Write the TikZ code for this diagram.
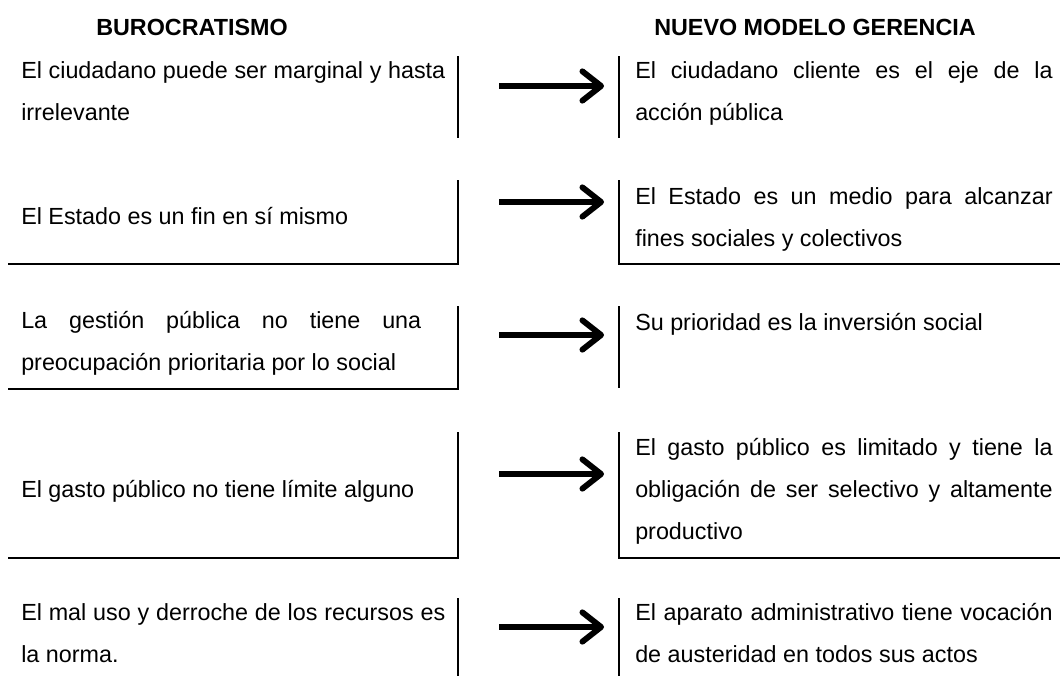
\documentclass[tikz,border=0pt]{standalone}
\usepackage{fontspec}
\setmainfont{Liberation Sans}
\usetikzlibrary{arrows.meta}
\newcommand{\nohyph}{\hyphenpenalty=10000\relax\exhyphenpenalty=10000\relax}
\begin{document}
\begin{tikzpicture}[x=0.75pt,y=-0.75pt,
  txt/.style={inner sep=0pt, anchor=base west, align=justify,
    font=\fontsize{17.5}{31.5}\selectfont\nohyph},
  lt/.style={txt, text width=318pt},
  rt/.style={txt, text width=313pt},
  hdr/.style={inner sep=0pt, anchor=base, font=\fontsize{17.5}{21}\selectfont\bfseries},
  rule/.style={line width=1.1pt, line cap=rect},
  arr/.style={line width=4.4pt, -{Straight Barb[length=14pt,width=22pt,line join=round,line cap=round]}}]
\useasboundingbox[fill=white] (0,0) rectangle (1060,675);

% headers
\node[hdr] (h1) at (192,35) {BUROCRATISMO};
\node[hdr] (h2) at (815,35) {NUEVO MODELO GERENCIA};

% left texts
\node[lt] (l1) at (21,78) {El ciudadano puede ser marginal y hasta\linebreak irrelevante};
\node[lt] (l2) at (21,224) {El Estado es un fin en sí mismo};
\node[txt, text width=300pt] (l3) at (21,328) {La gestión pública no tiene una\linebreak preocupación prioritaria por lo social};
\node[lt] (l4) at (21,497) {El gasto público no tiene límite alguno};
\node[lt] (l5) at (21,620) {El mal uso y derroche de los recursos es\linebreak la norma.};

% right texts
\node[rt] (r1) at (635,78) {El ciudadano cliente es el eje de la\linebreak acción pública};
\node[rt] (r2) at (635,204) {El Estado es un medio para alcanzar\linebreak fines sociales y colectivos};
\node[rt] (r3) at (635,330) {Su prioridad es la inversión social};
\node[rt] (r4) at (635,455) {El gasto público es limitado y tiene la\linebreak obligación de ser selectivo y altamente\linebreak productivo};
\node[rt] (r5) at (635,620) {El aparato administrativo tiene vocación\linebreak de austeridad en todos sus actos};

% left frames
\draw[rule] (458,57) -- (458,137);
\draw[rule] (458,181) -- (458,264) -- (9,264);
\draw[rule] (458,307) -- (458,389) -- (9,389);
\draw[rule] (458,433) -- (458,558) -- (9,558);
\draw[rule] (458,599) -- (458,676);

% right frames
\draw[rule] (619,57) -- (619,137);
\draw[rule] (619,181) -- (619,264) -- (1061,264);
\draw[rule] (619,307) -- (619,387);
\draw[rule] (619,433) -- (619,558) -- (1061,558);
\draw[rule] (619,599) -- (619,676);

% arrows
\coordinate (s1) at (499,86);  \coordinate (e1) at (604,86);
\coordinate (s2) at (499,202); \coordinate (e2) at (604,202);
\coordinate (s3) at (499,335); \coordinate (e3) at (604,335);
\coordinate (s4) at (499,474); \coordinate (e4) at (604,474);
\coordinate (s5) at (499,627); \coordinate (e5) at (604,627);
\foreach \i in {1,...,5} \draw[arr] (s\i) -- (e\i);
\end{tikzpicture}
\end{document}
